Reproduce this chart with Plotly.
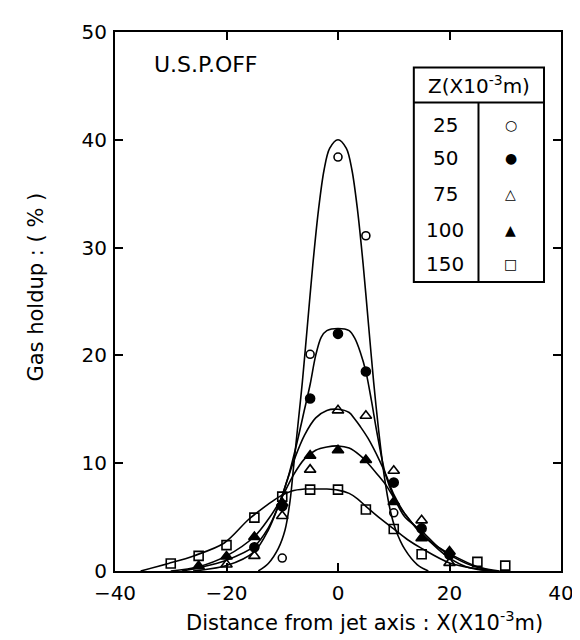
import plotly.graph_objects as go

# ---- measured points (X in 1e-3 m, gas holdup in %) ----
z_labels = ["25", "50", "75", "100", "150"]
legend_symbols = ["○", "●", "△", "▲", "□"]

x25 = [-10, -5, 0, 5, 10]
y25 = [1.2, 20.1, 38.4, 31.1, 5.4]

x50 = [-15, -10, -5, 0, 5, 10, 15, 20]
y50 = [2.2, 6.0, 16.0, 22.0, 18.5, 8.2, 3.95, 1.5]

x75 = [-20, -15, -10, -5, 0, 5, 10, 15, 20]
y75 = [0.6, 1.4, 5.1, 9.4, 14.9, 14.4, 9.3, 4.7, 0.75]

x100 = [-25, -20, -15, -10, -5, 0, 5, 10, 15, 20]
y100 = [0.45, 1.35, 3.15, 6.3, 10.7, 11.2, 10.3, 6.4, 3.05, 1.8]

x150 = [-30, -25, -20, -15, -10, -5, 0, 5, 10, 15, 25, 30]
y150 = [0.7, 1.4, 2.4, 4.95, 6.9, 7.55, 7.55, 5.7, 3.9, 1.55, 0.85, 0.5]

# ---- hand-drawn fitted curves ----
cx25 = [-14.3, -12.5, -10.7, -9.5, -8.6, -8.0, -7.2, -6.4, -5.5, -4.5, -3.5, -2.5, -1.5, 0,
        1.5, 2.5, 3.5, 4.5, 5.5, 6.4, 7.3, 8.3, 9.3, 10.3, 12.0, 14.2, 16.2]
cy25 = [0, 0.7, 2.1, 3.8, 6.5, 9.5, 13.5, 17.5, 22.7, 28.5, 33.5, 37.2, 39.2, 40.0,
        39.2, 37.2, 33.5, 28.5, 22.7, 17.5, 13.0, 8.8, 5.8, 3.9, 2.0, 0.6, 0]

cx50 = [-28, -25, -20, -15, -12.5, -10.5, -9, -7.5, -6, -5, -4, -3, -2, 0,
        2, 3, 4, 5, 6, 7, 8.5, 10, 12, 15, 18, 20, 24, 28]
cy50 = [0, 0.3, 1.0, 2.3, 4.0, 6.3, 8.6, 11.6, 15.0, 17.3, 20.0, 21.7, 22.3, 22.5,
        22.3, 21.6, 20.3, 18.5, 15.8, 12.8, 9.0, 6.9, 5.0, 3.7, 2.2, 1.5, 0.5, 0]

cx75 = [-26, -20, -15, -12.5, -10.5, -9, -7.8, -6, -4, -2, 0, 2, 3, 4, 5.4,
        7.5, 8.7, 10, 12, 15, 18, 20, 23, 27]
cy75 = [0, 0.5, 1.8, 3.8, 6.3, 8.6, 10.4, 12.6, 14.2, 14.9, 15.0, 14.7, 14.1, 13.4, 12.3,
        10.2, 8.8, 7.1, 5.3, 3.5, 2.0, 1.2, 0.4, 0]

cx100 = [-30, -25, -20, -15, -12.5, -10.5, -8, -6, -4, -2, 0, 2, 4, 5, 7,
         8.7, 10, 12, 15, 18, 20, 25, 29]
cy100 = [0, 0.4, 1.4, 3.2, 4.8, 6.4, 8.9, 10.4, 11.2, 11.5, 11.6, 11.4, 10.7, 10.2, 9.0,
         7.9, 6.8, 5.3, 3.4, 2.2, 1.6, 0.4, 0]

cx150 = [-35.4, -30.4, -25.9, -20.4, -16, -12.5, -10.5, -8.4, -6, -4, -2, 0, 2, 3.5, 5,
         7.5, 10, 12.5, 15, 20, 25, 28]
cy150 = [0, 0.7, 1.4, 2.6, 4.8, 6.2, 6.9, 7.4, 7.6, 7.6, 7.6, 7.5, 7.2, 6.7, 6.0,
         4.9, 3.9, 2.9, 2.1, 0.75, 0.2, 0]

x_ticks = [-40, -20, 0, 20, 40]
y_ticks = [0, 10, 20, 30, 40, 50]

FONT = "DejaVu Sans"
BLACK = "black"

fig = go.Figure()

curves = [(cx25, cy25), (cx50, cy50), (cx75, cy75), (cx100, cy100), (cx150, cy150)]
for cx, cy in curves:
    fig.add_trace(go.Scatter(x=cx, y=cy, mode="lines",
                             line=dict(color=BLACK, width=1.6, shape="spline", smoothing=0.9),
                             showlegend=False, hoverinfo="skip"))

series = [
    (x25, y25, "circle-open", 8),
    (x50, y50, "circle", 9),
    (x75, y75, "triangle-up-open", 10),
    (x100, y100, "triangle-up", 10),
    (x150, y150, "square-open", 9),
]
for (xs, ys, sym, sz), lab in zip(series, z_labels):
    fig.add_trace(go.Scatter(x=xs, y=ys, mode="markers", name=lab,
                             marker=dict(symbol=sym, size=sz, color=BLACK,
                                         line=dict(color=BLACK, width=1.6)),
                             showlegend=False, cliponaxis=False))

axis_common = dict(showline=True, linewidth=2, linecolor=BLACK, mirror="ticks",
                   ticks="inside", ticklen=8, tickwidth=1.6, tickcolor=BLACK,
                   showgrid=False, zeroline=False,
                   tickfont=dict(family=FONT, size=20, color=BLACK))

fig.update_xaxes(range=[-40, 40], tickvals=x_ticks, ticklabelstandoff=3, **axis_common)
fig.update_yaxes(range=[0, 50], tickvals=y_ticks, ticklabelstandoff=2, **axis_common)

annotations = [
    dict(text="Distance from jet axis : X(X10<sup>-3</sup>m)", xref="paper", yref="paper",
         x=0.56, y=-0.093, xanchor="center", yanchor="middle", showarrow=False,
         font=dict(family=FONT, size=21, color=BLACK)),
    dict(text="Gas holdup : ( % )", xref="paper", yref="paper",
         x=-0.177, y=0.526, xanchor="center", yanchor="middle", textangle=-90,
         showarrow=False, font=dict(family=FONT, size=21, color=BLACK)),
    dict(text="U.S.P.OFF", xref="x", yref="y", x=-23.6, y=47.0,
         xanchor="center", yanchor="middle", showarrow=False,
         font=dict(family=FONT, size=22, color=BLACK)),
    dict(text="Z(X10<sup>-3</sup>m)", xref="x", yref="y", x=25.3, y=45.1,
         xanchor="center", yanchor="middle", showarrow=False,
         font=dict(family=FONT, size=20, color=BLACK)),
]

row_y = [41.4, 38.3, 35.0, 31.6, 28.5]
for lab, symb, ry in zip(z_labels, legend_symbols, row_y):
    annotations.append(dict(text=lab, xref="x", yref="y", x=19.2, y=ry,
                            xanchor="center", yanchor="middle", showarrow=False,
                            font=dict(family=FONT, size=20, color=BLACK)))
    annotations.append(dict(text=symb, xref="x", yref="y", x=31.0, y=ry,
                            xanchor="center", yanchor="middle", showarrow=False,
                            font=dict(family=FONT, size=14, color=BLACK)))

shapes = [
    dict(type="rect", xref="x", yref="y", x0=13.6, x1=36.95, y0=26.8, y1=46.7,
         line=dict(color=BLACK, width=2), fillcolor="white", layer="above"),
    dict(type="line", xref="x", yref="y", x0=13.6, x1=36.95, y0=43.45, y1=43.45,
         line=dict(color=BLACK, width=2)),
    dict(type="line", xref="x", yref="y", x0=25.2, x1=25.2, y0=26.8, y1=43.45,
         line=dict(color=BLACK, width=2)),
]

fig.update_layout(
    width=580, height=640,
    margin=dict(l=107, r=27, t=19, b=77),
    paper_bgcolor="white", plot_bgcolor="white",
    font=dict(family=FONT, color=BLACK),
    annotations=annotations, shapes=shapes,
    showlegend=False,
)

fig.write_html("out.html")
